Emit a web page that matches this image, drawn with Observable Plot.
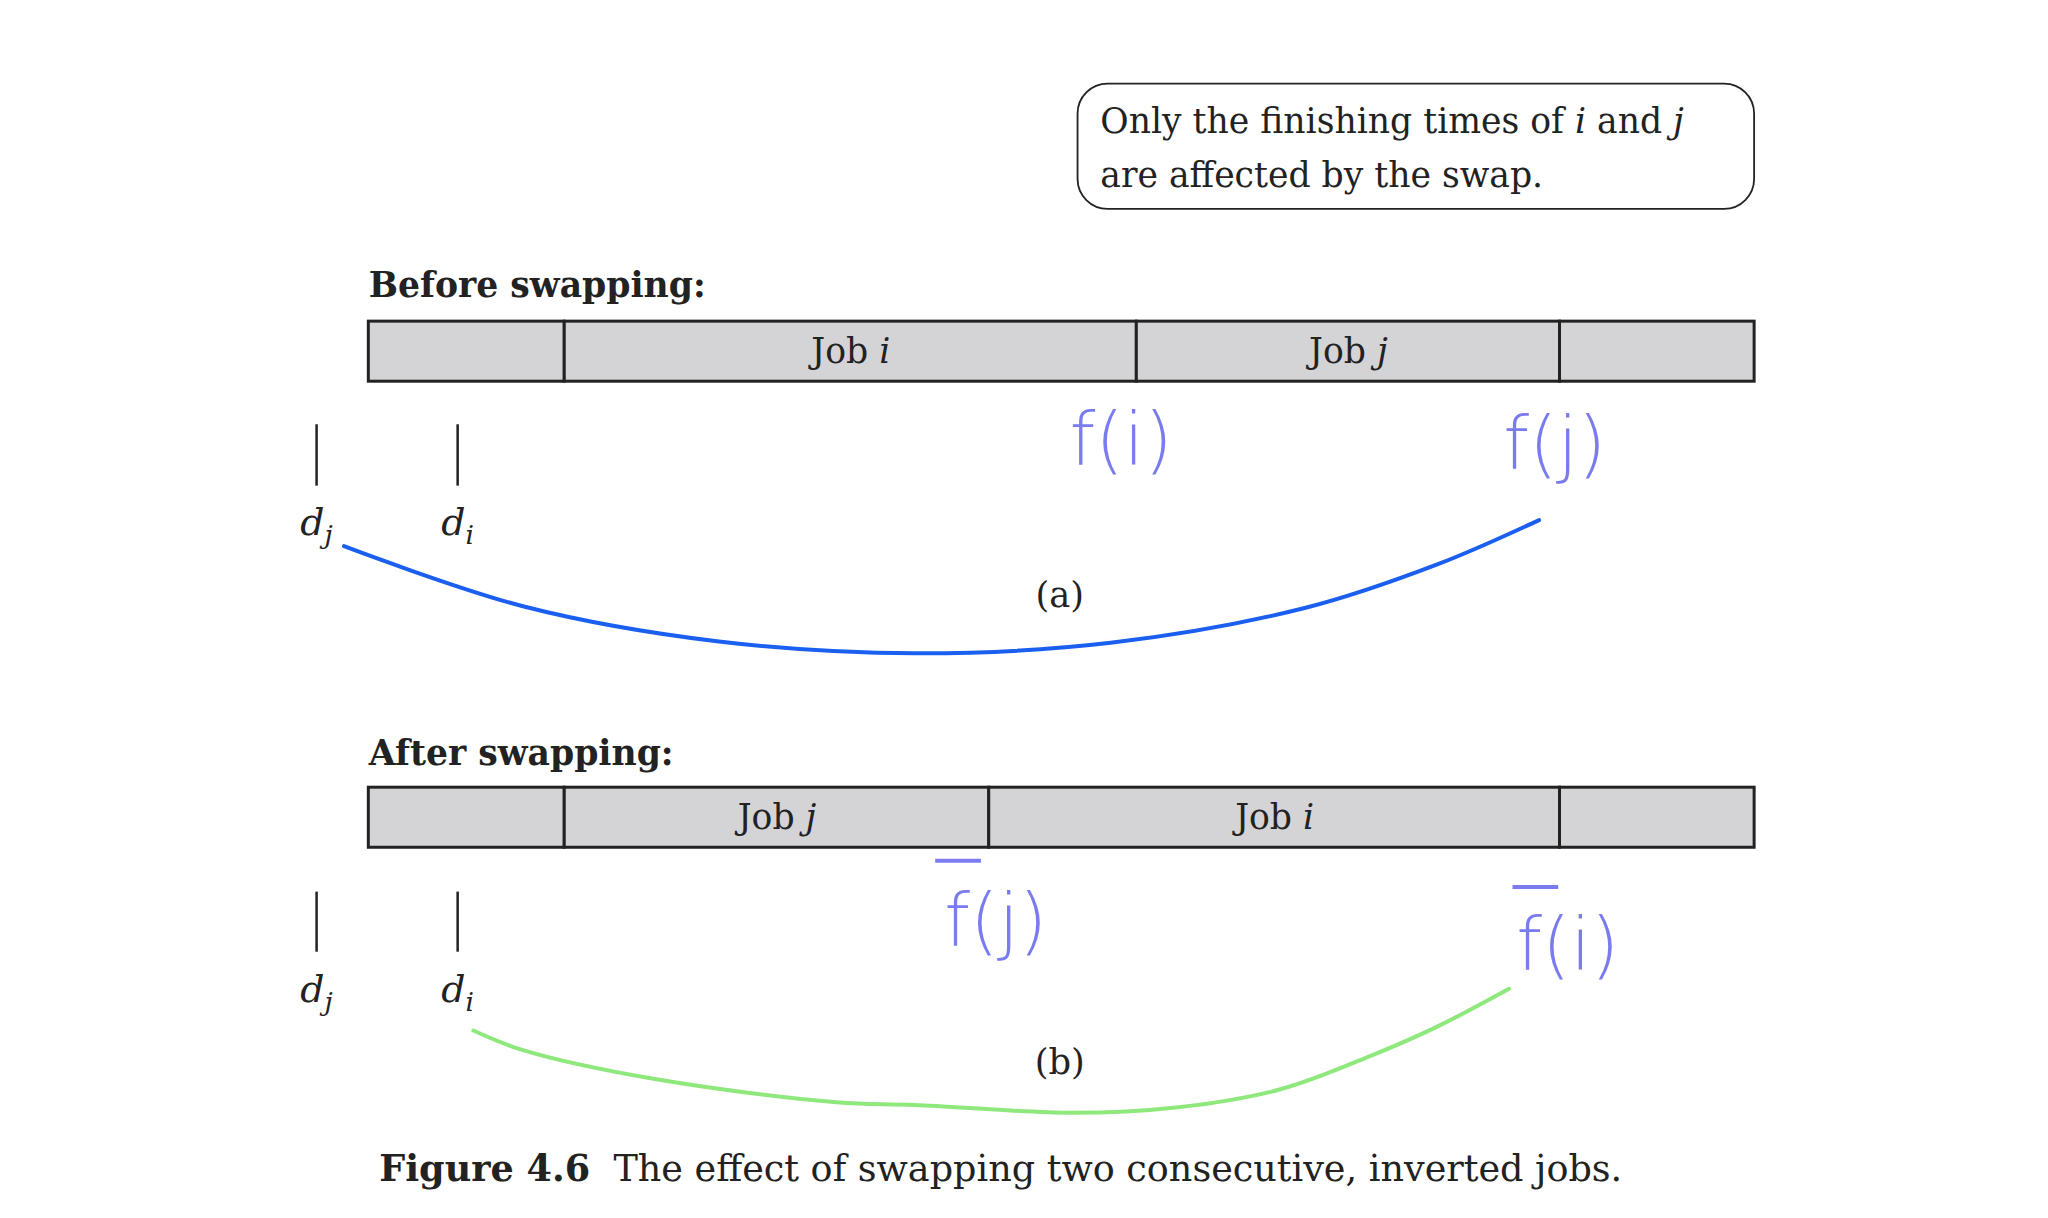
<!DOCTYPE html>
<html><head><meta charset="utf-8">
<script src="https://cdn.jsdelivr.net/npm/d3@7"></script>
<script src="https://cdn.jsdelivr.net/npm/@observablehq/plot@0.6"></script>
<style>body{margin:0;background:#fff}</style>
</head><body><div id="chart"></div>
<script>
// picture units (reference frame ~1568 x 933)
const beforeBlocks = [{x1:282,x2:432,label:""},{x1:432,x2:870,label:"Job *i*"},{x1:870,x2:1194,label:"Job *j*"},{x1:1194,x2:1343,label:""}];
const afterBlocks  = [{x1:282,x2:432,label:""},{x1:432,x2:757,label:"Job *j*"},{x1:757,x2:1194,label:"Job *i*"},{x1:1194,x2:1343,label:""}];
const deadlines = [{x:242,label:"d",sub:"j"},{x:350,label:"d",sub:"i"}];
const blueCurve = [[263,418],[400,464],[550,491],[700,500],[850,492],[1000,465],[1100,432],[1178,398]];
const greenCurve = [[362,789],[400,804],[500,826],[640,844],[700,846],[820,852],[900,848],[980,834],[1050,808],[1100,786],[1155,757]];
const finishLabels = [
  {x:858,y:338,t:"f(i)",bar:false},{x:1190,y:341,t:"f(j)",bar:false},
  {x:762,y:706,t:"f(j)",bar:true,b1:716,b2:751,by:659},{x:1200,y:725,t:"f(i)",bar:true,b1:1158,b2:1193,by:679}];
const rows = [{y1:246,y2:292,blocks:beforeBlocks,title:"Before swapping:",ty:219,tick1:325,tick2:372,ly:400,sub:"(a)",sy:456},
              {y1:603,y2:649,blocks:afterBlocks,title:"After swapping:",ty:577,tick1:683,tick2:729,ly:758,sub:"(b)",sy:814}];
const W = 1568, H = 933;
const K = 2048/W;
const serif = "DejaVu Serif, serif";
const marks = [];
marks.push(Plot.rect([{x1:825,x2:1343,y1:64,y2:160}],{x1:"x1",x2:"x2",y1:"y1",y2:"y2",fill:"white",stroke:"#222",strokeWidth:1.8,rx:30}));
marks.push(Plot.text(["Only the finishing times of *i* and *j*","are affected by the swap."],{x:842,y:(d,i)=>93+i*41,text:d=>d,textAnchor:"start",fontSize:26.5*K,fontFamily:serif,fill:"#222"}));
for (const r of rows) {
  marks.push(Plot.rect(r.blocks,{x1:"x1",x2:"x2",y1:r.y1,y2:r.y2,fill:"#d4d4d6",stroke:"#222",strokeWidth:3}));
  marks.push(Plot.text(r.blocks.filter(b=>b.label),{x:b=>(b.x1+b.x2)/2,y:(r.y1+r.y2)/2,text:"label",fontSize:26.5*K,fontFamily:serif,fill:"#222"}));
  marks.push(Plot.text([r.title],{x:282,y:r.ty,text:d=>d,textAnchor:"start",fontSize:26.5*K,fontWeight:"bold",fontFamily:serif,fill:"#222"}));
  marks.push(Plot.ruleX(deadlines,{x:"x",y1:r.tick1,y2:r.tick2,stroke:"#222",strokeWidth:2.5}));
  marks.push(Plot.text(deadlines,{x:"x",y:r.ly,text:d=>"*d*_"+d.sub,fontSize:29*K,fontFamily:serif,fill:"#222"}));
  marks.push(Plot.text([r.sub],{x:811,y:r.sy,text:d=>d,fontSize:27*K,fontFamily:serif,fill:"#222"}));
}
marks.push(Plot.line(blueCurve,{x:d=>d[0],y:d=>d[1],curve:"catmull-rom",stroke:"#1a5ff0",strokeWidth:4}));
marks.push(Plot.line(greenCurve,{x:d=>d[0],y:d=>d[1],curve:"catmull-rom",stroke:"#8ee87c",strokeWidth:4}));
marks.push(Plot.text(finishLabels,{x:"x",y:"y",text:"t",fontSize:56*K,fontFamily:"DejaVu Sans",fontWeight:"200",fill:"#7b7bf0"}));
marks.push(Plot.ruleY(finishLabels.filter(d=>d.bar),{y:"by",x1:"b1",x2:"b2",stroke:"#7b7bf0",strokeWidth:4}));
marks.push(Plot.text(["**Figure 4.6**  The effect of swapping two consecutive, inverted jobs."],{x:290,y:895,text:d=>d,textAnchor:"start",fontSize:28*K,fontFamily:serif,fill:"#222"}));

const plot = Plot.plot({width:2048,height:1218,margin:0,
  x:{domain:[0,W],axis:null},y:{domain:[0,H],range:[0,1218],axis:null},marks});
// convert simple markup (*italic*, **bold**, _sub) into tspans
d3.select(plot).selectAll("text").each(function(){
  const el=d3.select(this); const s=el.text();
  if(!/[*_]/.test(s)) return;
  el.text("");
  const re=/(\*\*[^*]+\*\*|\*[^*]+\*|_[a-z])/g; let last=0,m;
  const add=(t,style)=>{const ts=el.append("tspan").text(t);
    if(style==="b") ts.attr("font-weight","bold");
    if(style==="i") ts.attr("font-style","italic");
    if(style==="s") ts.attr("font-style","italic").attr("font-size","0.7em").attr("dy","0.35em");};
  while((m=re.exec(s))){ if(m.index>last) add(s.slice(last,m.index));
    const t=m[0]; if(t.startsWith("**")) add(t.slice(2,-2),"b"); else if(t[0]==="*") add(t.slice(1,-1),"i"); else add(t.slice(1),"s");
    last=re.lastIndex;}
  if(last<s.length) add(s.slice(last));
});
document.getElementById("chart").appendChild(plot);
</script></body></html>
